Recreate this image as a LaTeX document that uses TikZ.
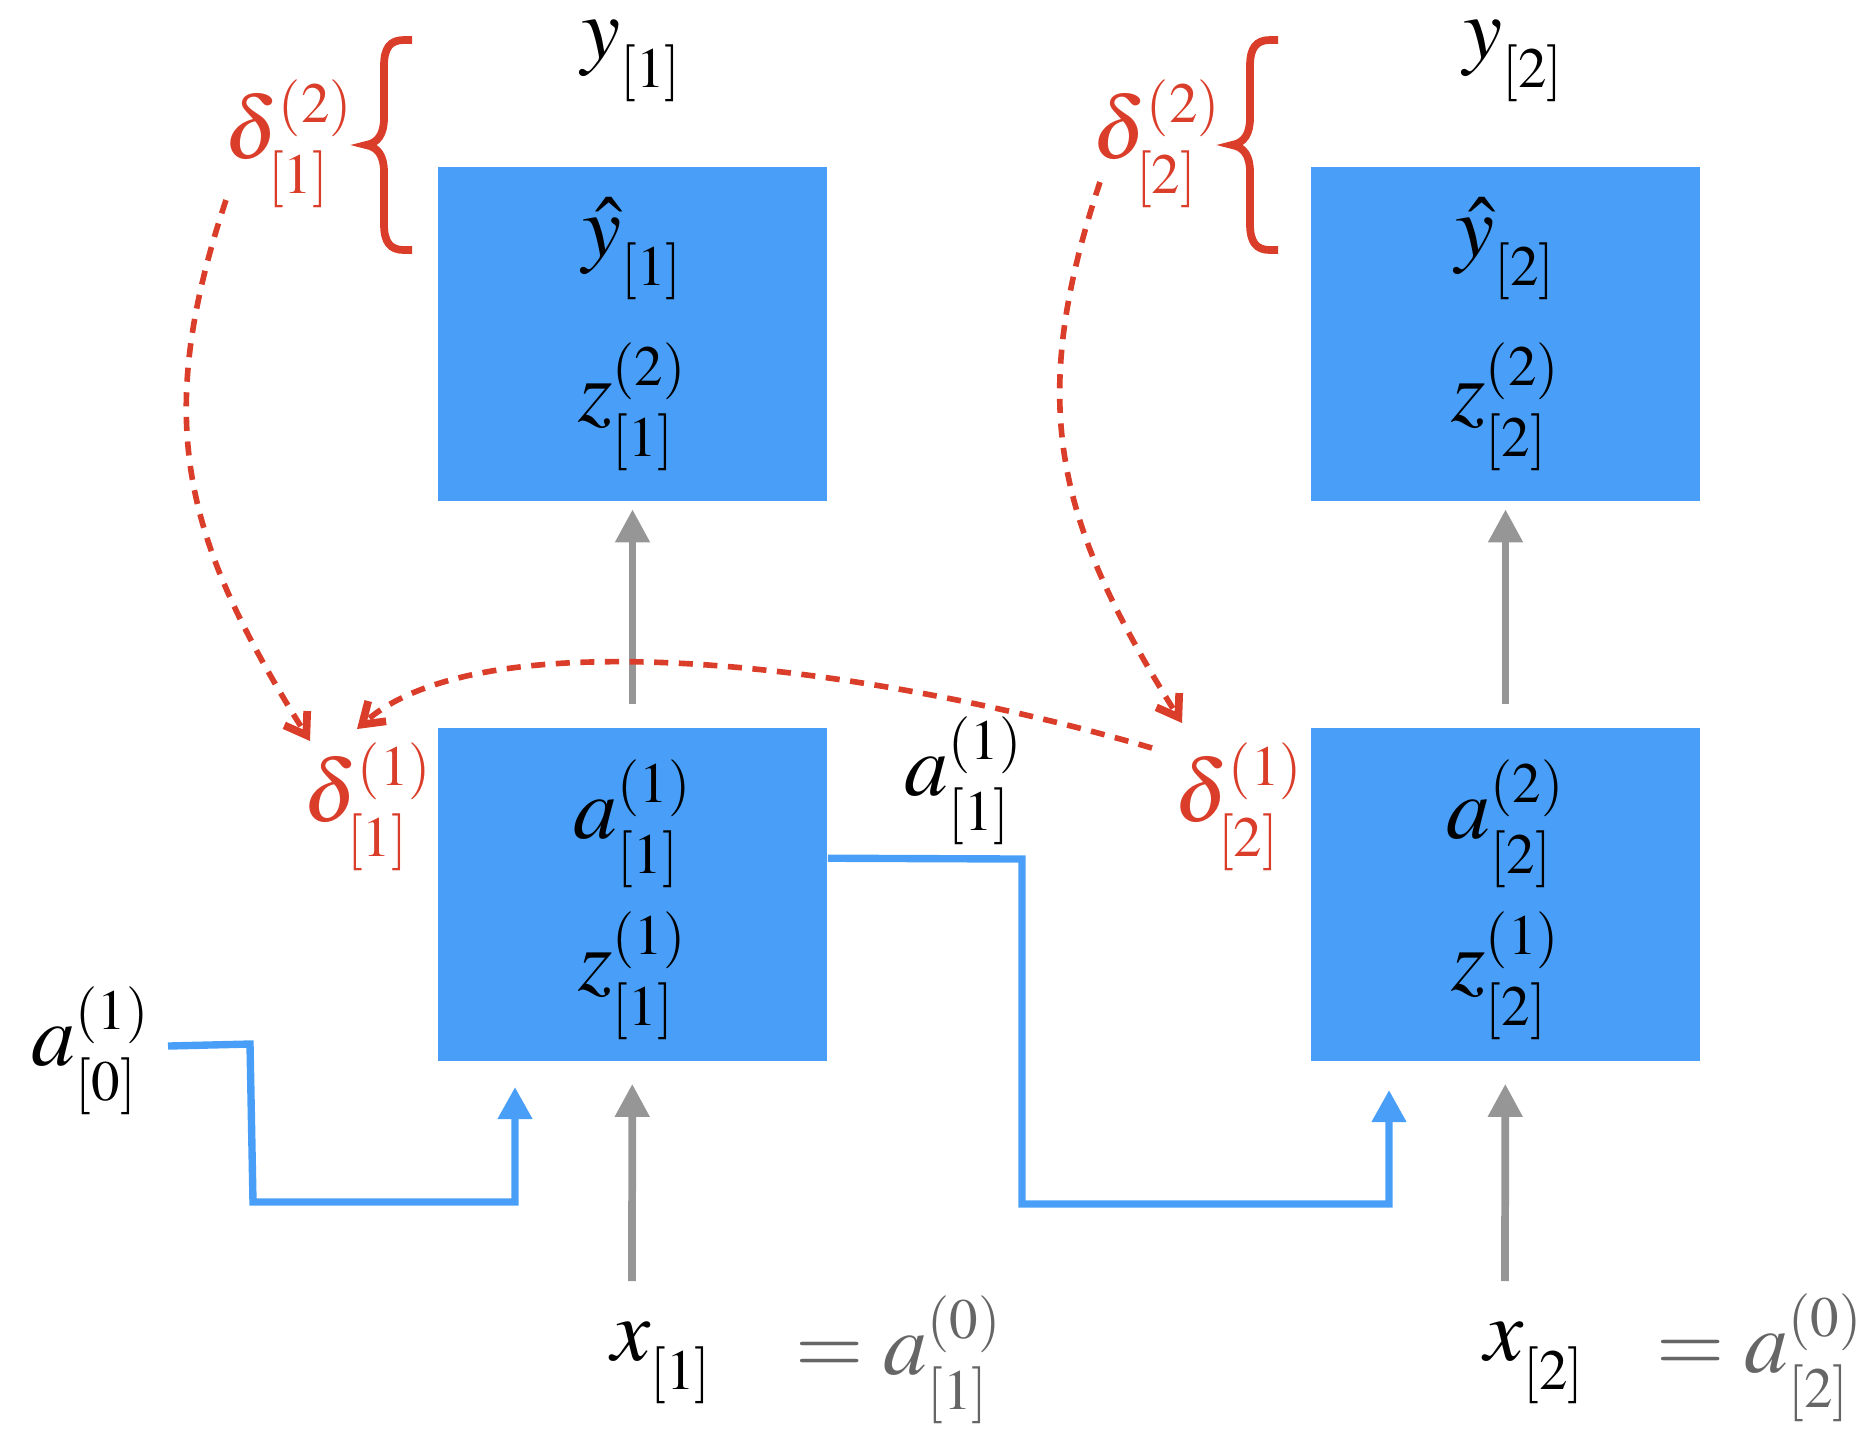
\documentclass[tikz,border=0pt]{standalone}
\usepackage{amsmath}
\usepackage{amssymb}
\usepackage{mathptmx}
\usepackage{tikz}
\usetikzlibrary{arrows.meta,positioning}

\DeclareMathSizes{25}{25}{16.2}{11.5}
\definecolor{cellblue}{RGB}{73,159,247}
\definecolor{errred}{RGB}{218,62,42}
\definecolor{arrgray}{RGB}{150,150,150}
\definecolor{eqgray}{RGB}{102,102,102}
% scripts sit closer to the letter
\newcommand{\tightscripts}{\fontdimen5\textfont2=5pt \fontdimen14\textfont2=10.3pt
  \fontdimen16\textfont2=7pt \fontdimen17\textfont2=8.75pt }

\begin{document}
\everymath{\tightscripts}
\begin{tikzpicture}[x=0.01cm, y=-0.01cm,
        cell/.style={fill=cellblue, minimum width=3.89cm, minimum height=3.33cm, inner sep=0pt},
        lbl/.style={inner sep=0pt, font=\fontsize{25}{30}\selectfont},
        err/.style={lbl, text=errred},
        eq/.style={lbl, text=eqgray},
        grayarrow/.style={color=arrgray, line width=2.2pt, -{Triangle[width=0.33cm,length=0.33cm]}},
        bluearrow/.style={color=cellblue, line width=2.1pt, -{Triangle[width=0.33cm,length=0.32cm]}},
        backprop/.style={color=errred, line width=1.6pt, dash pattern=on 4pt off 3pt,
          -{Straight Barb[length=0.2cm,width=0.27cm,line width=2.2pt]}},
        dbrace/.style={color=errred, line width=2.2pt}]
        \useasboundingbox (0,0) rectangle (1874,1438);
        % cells
        \node[cell] (t1) at (632.5,334) {};
        \node[cell] (t2) at (1505.5,334) {};
        \node[cell] (b1) at (632.5,894.5) {};
        \node[cell] (b2) at (1505.5,894.5) {};
        % inside the cells
        \node[lbl] (yh1) at (633,249) {$\hat{y}_{[1]}$};
        \node[lbl] (z21) at (633,407) {$z^{(2)}_{[1]}$};
        \node[lbl] (yh2) at (1506,249) {$\hat{y}_{[2]}$};
        \node[lbl] (z22) at (1506,407) {$z^{(2)}_{[2]}$};
        \node[lbl] (a11) at (633,824) {$a^{(1)}_{[1]}$};
        \node[lbl] (z11) at (633,976) {$z^{(1)}_{[1]}$};
        \node[lbl] (a22) at (1506,824) {$a^{(2)}_{[2]}$};
        \node[lbl] (z12) at (1506,976) {$z^{(1)}_{[2]}$};
        % outside
        \node[lbl] (y1) at (632,61) {$y_{[1]}$};
        \node[lbl] (y2) at (1514,61) {$y_{[2]}$};
        \node[err] (d21) at (289,144) {$\delta^{(2)}_{[1]}$};
        \node[err] (d22) at (1157,144) {$\delta^{(2)}_{[2]}$};
        \node[err] (d11) at (368,807) {$\delta^{(1)}_{[1]}$};
        \node[err] (d12) at (1239,807) {$\delta^{(1)}_{[2]}$};
        \node[lbl] (a1o) at (964,781) {$a^{(1)}_{[1]}$};
        \node[lbl] (a0) at (91,1051) {$a^{(1)}_{[0]}$};
        \node[lbl] (x1) at (662,1363) {$x_{[1]}$};
        \node[lbl] (x2) at (1535,1363) {$x_{[2]}$};
        \node[eq] (e1) at (899,1360) {$=a^{(0)}_{[1]}$};
        \node[eq] (e2) at (1760,1358) {$=a^{(0)}_{[2]}$};
        \coordinate (in1) at (515,1087);
        \coordinate (in2) at (1389,1090);
        \coordinate (src1) at (632,1281);
        \coordinate (src2) at (1505,1281);
        % forward
        \draw[grayarrow, shorten <=0.23cm, shorten >=0.08cm] (b1) -- (t1);
        \draw[grayarrow, shorten <=0.23cm, shorten >=0.08cm] (b2) -- (t2);
        \draw[grayarrow, shorten >=0.22cm] (src1) -- (b1);
        \draw[grayarrow, shorten >=0.22cm] (src2) -- (b2);
        \draw[bluearrow] ([shift={(77,-5)}]a0.center) -- (250,1044) -- (253,1202) -- (515,1202) -- (in1);
        \draw[bluearrow] (b1.north east) ++(0,131) -- (1022,859) -- (1022,1204) -- (1389,1204) -- (in2);
        % backward
        \draw[dbrace] (412,40) -- (404,40) .. controls (390,40) and (384,48) .. (384,66) -- (384,118)
          .. controls (384,134) and (378,143) .. (366,145) .. controls (378,147) and (384,156) .. (384,172)
          -- (384,224) .. controls (384,242) and (390,250) .. (404,250) -- (412,250);
        \draw[dbrace, shift={(866,0)}] (412,40) -- (404,40) .. controls (390,40) and (384,48) .. (384,66) -- (384,118)
          .. controls (384,134) and (378,143) .. (366,145) .. controls (378,147) and (384,156) .. (384,172)
          -- (384,224) .. controls (384,242) and (390,250) .. (404,250) -- (412,250);
        \draw[backprop] ([shift={(-63,56)}]d21.center) .. controls +(-75,225) and +(-125,-200) .. ([shift={(-58,-66)}]d11.center);
        \draw[backprop] ([shift={(-57,38)}]d22.center) .. controls +(-75,225) and +(-125,-200) .. ([shift={(-57,-84)}]d12.center);
        \draw[backprop] ([shift={(-87,-59)}]d12.center) .. controls +(-302,-88) and +(123,-109) .. ([shift={(-11,-78)}]d11.center);
      \end{tikzpicture}
\end{document}
